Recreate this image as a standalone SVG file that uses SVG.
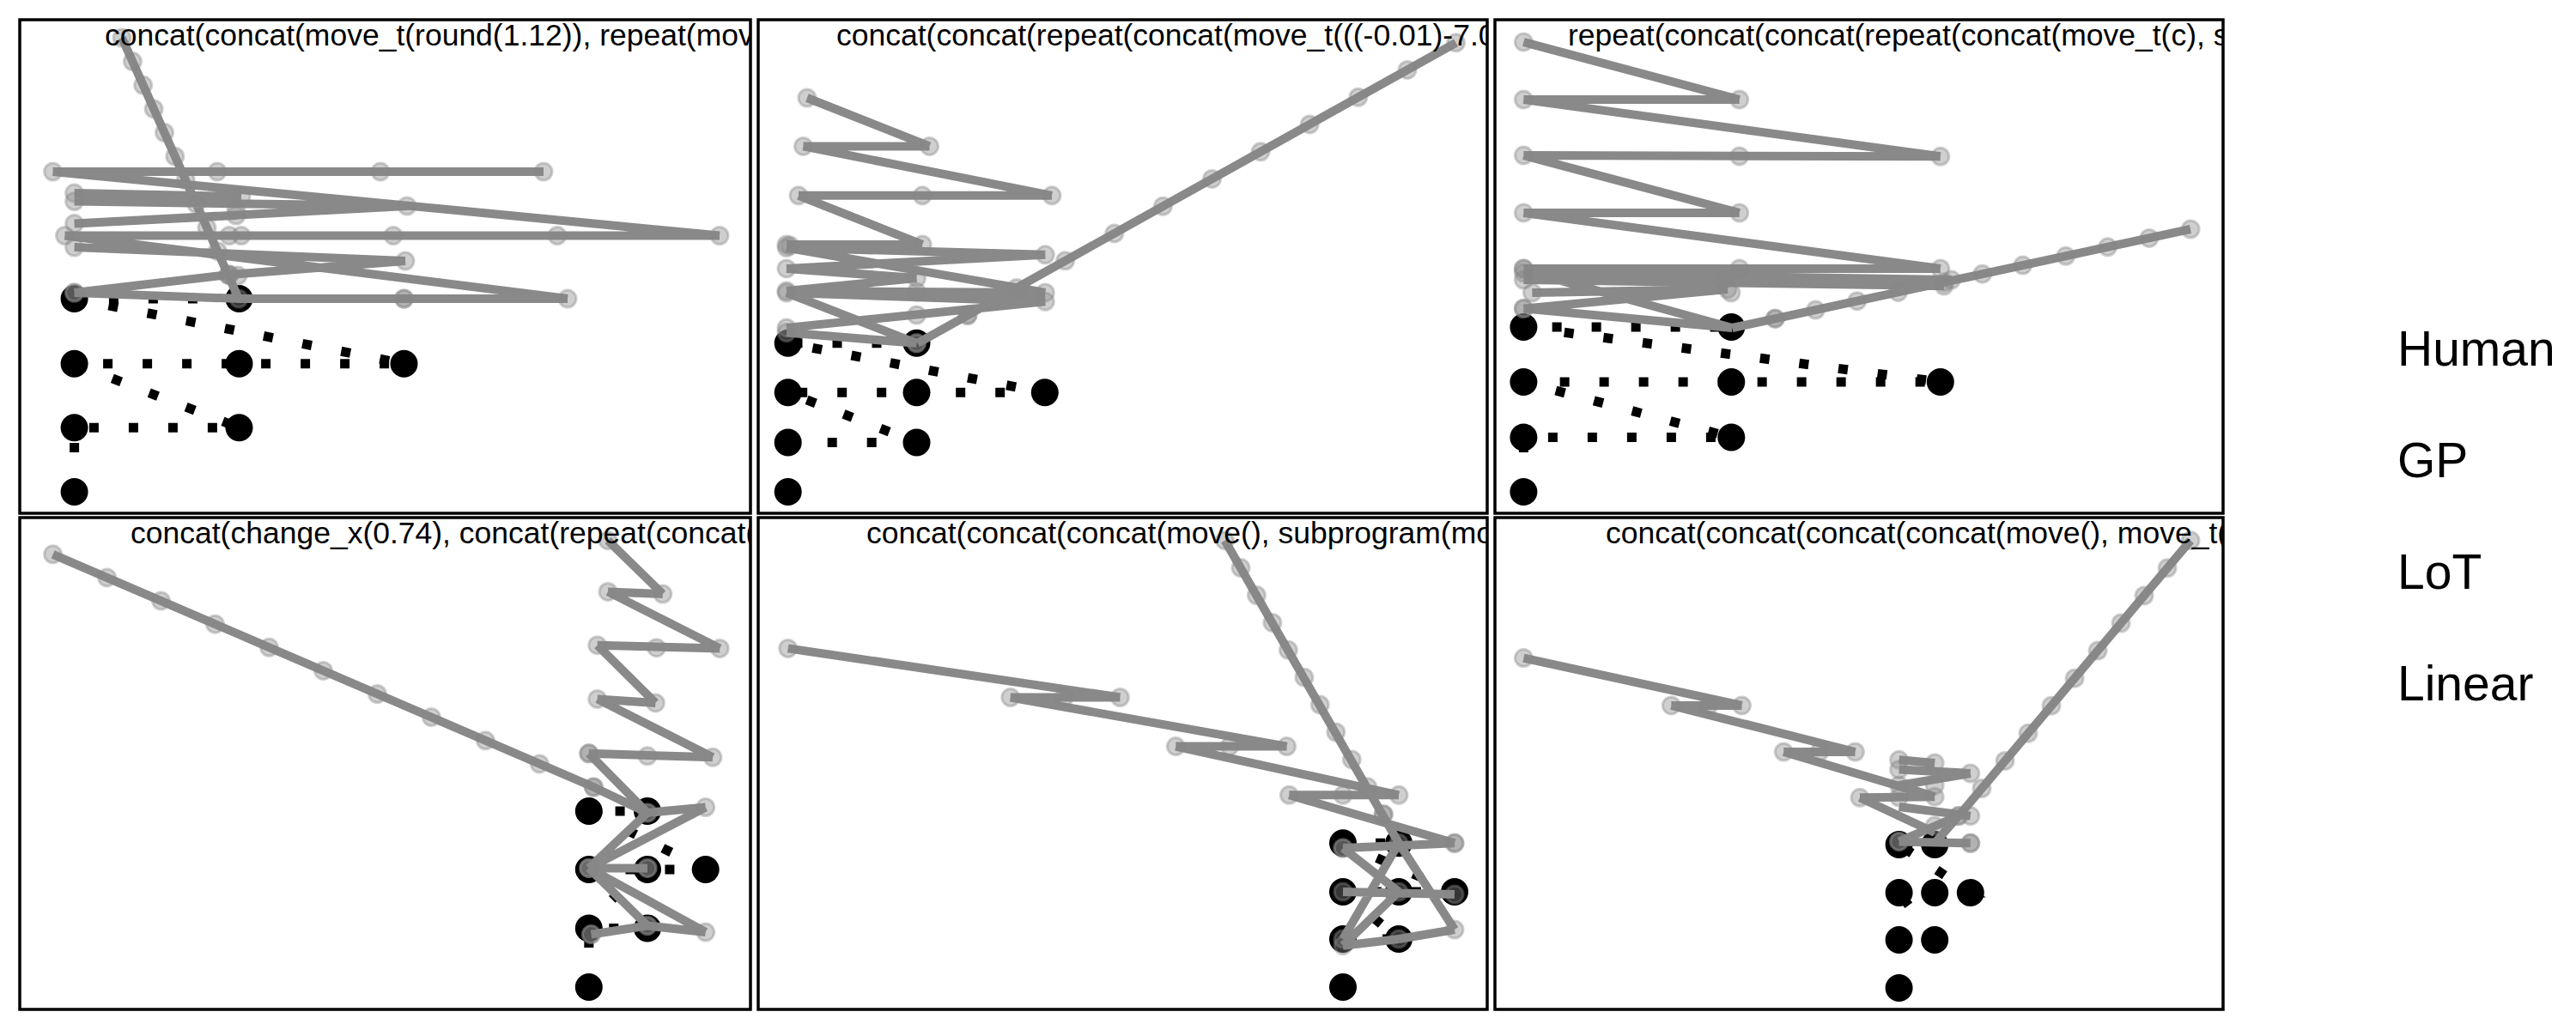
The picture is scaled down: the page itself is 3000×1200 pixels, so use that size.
<svg xmlns="http://www.w3.org/2000/svg" width="3000" height="1200" viewBox="0 0 3000 1200">
<style>
.frame{fill:none;stroke:#000;stroke-width:3.5}
.hd{fill:#000}
.hp{fill:none;stroke:#000;stroke-width:11;stroke-dasharray:11 35}
.gl{fill:none;stroke:#898989;stroke-width:10;stroke-linecap:butt;stroke-linejoin:round}
.gc{fill:#888;fill-opacity:0.4;stroke:#888;stroke-opacity:0.4;stroke-width:3}
.title{font-family:"Liberation Sans",Arial,sans-serif;font-size:35.5px;fill:#000}
.lab{font-family:"Liberation Sans",Arial,sans-serif;font-size:57px;fill:#000}
</style>
<defs>
<clipPath id="c1"><rect x="23" y="23" width="851" height="575"/></clipPath>
<clipPath id="c2"><rect x="883" y="23" width="849" height="575"/></clipPath>
<clipPath id="c3"><rect x="1741" y="23" width="848" height="575"/></clipPath>
<clipPath id="c4"><rect x="23" y="603" width="851" height="573"/></clipPath>
<clipPath id="c5"><rect x="883" y="603" width="849" height="573"/></clipPath>
<clipPath id="c6"><rect x="1741" y="603" width="848" height="573"/></clipPath>
</defs>
<rect width="3000" height="1200" fill="#fff"/>

<g id="panel-1" clip-path="url(#c1)">
<g class="hd"><circle cx="86.6" cy="348" r="16"/><circle cx="278.5" cy="348" r="16"/><circle cx="86.6" cy="423.7" r="16"/><circle cx="278.5" cy="423.7" r="16"/><circle cx="470.5" cy="423.7" r="16"/><circle cx="86.6" cy="498.3" r="16"/><circle cx="278.5" cy="498.3" r="16"/><circle cx="86.6" cy="573" r="16"/></g>
<polyline class="hp" points="86.6,573 86.6,498.3 278.5,498.3 86.6,423.7 470.5,423.7 86.6,348 278.5,348"/>
<path class="gl" d="M142,44L278,348 M61.6,200L633,200 M61.6,200L838,274.5 M75.5,274.5L838,274.5 M86.6,225L281,229 M86.6,234.5L281,232 M86.6,234.5L474,240 M474,240L86.6,260.6 M86.6,260.6L275,251 M86.6,288L472,304 M472,304L267,320 M267,320L86.6,341 M75.5,274.5L661,348 M86.6,341L278.5,348 L661,348"/>
<g class="gc"><circle cx="142" cy="44" r="10"/><circle cx="154.4" cy="71.6" r="10"/><circle cx="166.7" cy="99.3" r="10"/><circle cx="179.1" cy="126.9" r="10"/><circle cx="191.5" cy="154.5" r="10"/><circle cx="203.8" cy="182.2" r="10"/><circle cx="216.2" cy="209.8" r="10"/><circle cx="228.5" cy="237.5" r="10"/><circle cx="240.9" cy="265.1" r="10"/><circle cx="253.3" cy="292.7" r="10"/><circle cx="265.6" cy="320.4" r="10"/><circle cx="278" cy="348" r="10"/>
<circle cx="61.6" cy="200" r="10"/><circle cx="253" cy="200" r="10"/><circle cx="443" cy="200" r="10"/><circle cx="633" cy="200" r="10"/>
<circle cx="75.5" cy="274.5" r="10"/><circle cx="267" cy="274.5" r="10"/><circle cx="281" cy="274.5" r="10"/><circle cx="458" cy="274.5" r="10"/><circle cx="649" cy="274.5" r="10"/><circle cx="838" cy="274.5" r="10"/>
<circle cx="86.6" cy="225" r="10"/><circle cx="86.6" cy="234.5" r="10"/><circle cx="281" cy="229" r="10"/><circle cx="474" cy="240" r="10"/><circle cx="86.6" cy="260.6" r="10"/><circle cx="275" cy="244" r="10"/><circle cx="275" cy="251" r="10"/><circle cx="86.6" cy="288" r="10"/><circle cx="472" cy="304" r="10"/><circle cx="267" cy="320" r="10"/><circle cx="267" cy="320" r="10"/><circle cx="277" cy="321" r="10"/><circle cx="86.6" cy="341" r="10"/><circle cx="86.6" cy="341" r="10"/><circle cx="470.5" cy="348" r="10"/><circle cx="470.5" cy="348" r="10"/><circle cx="661" cy="348" r="10"/></g>
<text class="title" x="122" y="53">concat(concat(move_t(round(1.12)), repeat(mov</text>
</g>

<g id="panel-2" clip-path="url(#c2)">
<g class="hd"><circle cx="917.7" cy="399.8" r="16"/><circle cx="1067.5" cy="399.8" r="16"/><circle cx="917.7" cy="457.3" r="16"/><circle cx="1067.5" cy="457.3" r="16"/><circle cx="1216.8" cy="457.3" r="16"/><circle cx="917.7" cy="515.5" r="16"/><circle cx="1067.5" cy="515.5" r="16"/><circle cx="917.7" cy="573" r="16"/></g>
<polyline class="hp" points="917.7,515.5 1067.5,515.5 917.7,457.3 1216.8,457.3 917.7,399.8 1067.5,399.8"/>
<path class="gl" d="M939.9,114L1082.5,170.4 M935.5,170.4L1082.5,170.4 M935.5,170.4L1225,227.8 M930,227.8L1225,227.8 M930,227.8L1074.2,284.9 M916,284.9L1074.2,284.9 M916,288.6L1074.2,287 M916,288.6L1217.3,296.8 M1217.3,296.8L916,312.9 M916,312.9L1067.5,324 M1067.5,324L916,339 M916,339L1217.3,340.9 M916,341L1217.3,351.3 M916,341L1067.5,399.8 M916,381.9L1217.3,351.3 M916,387.5L1067.5,399.8 M916,288.6L1217.3,340.9 M1068.6,399.8L1695.6,49.8"/>
<g class="gc"><circle cx="939.9" cy="114" r="10"/><circle cx="1082.5" cy="170.4" r="10"/><circle cx="935.5" cy="170.4" r="10"/><circle cx="1225" cy="227.8" r="10"/><circle cx="930" cy="227.8" r="10"/><circle cx="1074.2" cy="227.8" r="10"/><circle cx="1074.2" cy="284.9" r="10"/><circle cx="916" cy="284.9" r="10"/><circle cx="920" cy="286" r="10"/><circle cx="916" cy="288.6" r="10"/><circle cx="1217.3" cy="296.8" r="10"/><circle cx="916" cy="312.9" r="10"/><circle cx="1067.5" cy="324" r="10"/><circle cx="916" cy="339" r="10"/><circle cx="916" cy="341" r="10"/><circle cx="1217.3" cy="340.9" r="10"/><circle cx="1217.3" cy="351.3" r="10"/><circle cx="1067.5" cy="340" r="10"/><circle cx="1067.5" cy="367" r="10"/><circle cx="916" cy="381.9" r="10"/><circle cx="916" cy="387.5" r="10"/><circle cx="1067.5" cy="399.8" r="10"/><circle cx="1067.5" cy="399.8" r="10"/>
<circle cx="1126.9" cy="367.3" r="10"/><circle cx="1126.9" cy="367.3" r="10"/><circle cx="1184" cy="335.4" r="10"/><circle cx="1240.6" cy="303.8" r="10"/><circle cx="1297.8" cy="271.9" r="10"/><circle cx="1354.4" cy="240.3" r="10"/><circle cx="1411.5" cy="208.4" r="10"/><circle cx="1468.1" cy="176.8" r="10"/><circle cx="1525.2" cy="144.9" r="10"/><circle cx="1581.8" cy="113.3" r="10"/><circle cx="1639" cy="81.4" r="10"/><circle cx="1695.6" cy="49.8" r="10"/></g>
<text class="title" x="974" y="53">concat(concat(repeat(concat(move_t(((-0.01)-7.0</text>
</g>

<g id="panel-3" clip-path="url(#c3)">
<g class="hd"><circle cx="1774.4" cy="381" r="16"/><circle cx="2016.3" cy="381" r="16"/><circle cx="1774.4" cy="445" r="16"/><circle cx="2016.3" cy="445" r="16"/><circle cx="2259.8" cy="445" r="16"/><circle cx="1774.4" cy="509.5" r="16"/><circle cx="2016.3" cy="509.5" r="16"/><circle cx="1774.4" cy="573" r="16"/></g>
<polyline class="hp" points="1774.4,573 1774.4,509.5 2016.3,509.5 1774.4,445 2259.8,445 1774.4,381 2016.3,381"/>
<path class="gl" d="M1774.4,49L2025.7,116 M1774.4,116L2025.7,116 M1774.4,116L2259.8,182.3 M1774.4,181L2259.8,182.3 M1774.4,181L2025.7,248 M1774.4,248L2025.7,248 M1774.4,248L2259.8,313 M1774.4,313L2259.8,313 M1774.4,318L2272.6,326 M1774.4,326L2264,333 M1784.4,341L2011.9,337 M1774.4,359.5L2011.9,337 M1774.4,359.5L2017.4,382 M1774.4,315L2017.4,382 M1774.4,322L2264,330 M2017.4,382L2551,267"/>
<g class="gc"><circle cx="1774.4" cy="49" r="10"/><circle cx="2025.7" cy="116" r="10"/><circle cx="1774.4" cy="116" r="10"/><circle cx="2259.8" cy="182.3" r="10"/><circle cx="1774.4" cy="181" r="10"/><circle cx="2025.7" cy="182" r="10"/><circle cx="1774.4" cy="248" r="10"/><circle cx="2025.7" cy="248" r="10"/><circle cx="2259.8" cy="313" r="10"/><circle cx="1774.4" cy="313" r="10"/><circle cx="1774.4" cy="313" r="10"/><circle cx="2025.7" cy="313" r="10"/><circle cx="1774.4" cy="318" r="10"/><circle cx="1774.4" cy="326" r="10"/><circle cx="1784.4" cy="341" r="10"/><circle cx="2007" cy="326" r="10"/><circle cx="2011.9" cy="337" r="10"/><circle cx="2016" cy="341" r="10"/><circle cx="2272.6" cy="326" r="10"/><circle cx="2264" cy="333" r="10"/><circle cx="1774.4" cy="359.5" r="10"/><circle cx="1774.4" cy="359.5" r="10"/>
<circle cx="2067.3" cy="371.2" r="10"/><circle cx="2067.3" cy="371.2" r="10"/><circle cx="2114.5" cy="361.1" r="10"/><circle cx="2162.8" cy="350.7" r="10"/><circle cx="2210.5" cy="340.4" r="10"/><circle cx="2264.3" cy="328.8" r="10"/><circle cx="2308.7" cy="319.2" r="10"/><circle cx="2355.8" cy="309.1" r="10"/><circle cx="2405.8" cy="298.3" r="10"/><circle cx="2454.6" cy="287.8" r="10"/><circle cx="2502.9" cy="277.4" r="10"/><circle cx="2551.1" cy="267" r="10"/></g>
<text class="title" x="1826" y="53">repeat(concat(concat(repeat(concat(move_t(c), s</text>
</g>

<g id="panel-4" clip-path="url(#c4)">
<g class="hd"><circle cx="685.8" cy="945" r="16"/><circle cx="754" cy="945" r="16"/><circle cx="685.8" cy="1013" r="16"/><circle cx="754" cy="1013" r="16"/><circle cx="821.7" cy="1013" r="16"/><circle cx="685.8" cy="1081.5" r="16"/><circle cx="754" cy="1081.5" r="16"/><circle cx="685.8" cy="1150" r="16"/></g>
<polyline class="hp" points="685.8,1150 685.8,1081.5 754,1081.5 685.8,1013 821.7,1013 685.8,945 754,945"/>
<path class="gl" d="M61.6,645.8L691.3,917L754,946.9 M708,629.7L771.8,692 M708,689.4L771.8,692 M708,689.4L838.3,755.4 M695.7,751.7L838.3,755.4 M695.7,751.7L763.4,818.9 M695.7,814.4L763.4,818.9 M695.7,814.4L830,882.3 M685.8,877.8L830,882.3 M685.8,877.8L754,946.9 M754,946.9L821.7,940.5 M821.7,940.5L685.8,1011.4 M754,946.9L685.8,1011.4 M685.8,1011.4L754,1011.4 M685.8,1011.4L754,1078.5 M685.8,1011.4L821.7,1086 M754,1078.5L821.7,1086 M754,1078.5L688.5,1088.6"/>
<g class="gc"><circle cx="61.6" cy="645.8" r="10"/><circle cx="124.6" cy="672.9" r="10"/><circle cx="187.5" cy="700" r="10"/><circle cx="250.5" cy="727.2" r="10"/><circle cx="313.5" cy="754.3" r="10"/><circle cx="376.5" cy="781.4" r="10"/><circle cx="439.4" cy="808.5" r="10"/><circle cx="502.4" cy="835.6" r="10"/><circle cx="565.4" cy="862.8" r="10"/><circle cx="628.3" cy="889.9" r="10"/><circle cx="691.3" cy="917" r="10"/><circle cx="691.3" cy="917" r="10"/>
<circle cx="708" cy="629.7" r="10"/><circle cx="771.8" cy="692" r="10"/><circle cx="708" cy="689.4" r="10"/><circle cx="838.3" cy="755.4" r="10"/><circle cx="695.7" cy="751.7" r="10"/><circle cx="764.5" cy="754.7" r="10"/><circle cx="763.4" cy="818.9" r="10"/><circle cx="695.7" cy="814.4" r="10"/><circle cx="830" cy="882.3" r="10"/><circle cx="685.8" cy="877.8" r="10"/><circle cx="685.8" cy="877.8" r="10"/><circle cx="754" cy="880.8" r="10"/><circle cx="754" cy="946.9" r="10"/><circle cx="754" cy="946.9" r="10"/><circle cx="821.7" cy="940.5" r="10"/><circle cx="685.8" cy="1011.4" r="10"/><circle cx="685.8" cy="1011.4" r="10"/><circle cx="685.8" cy="1011.4" r="10"/><circle cx="754" cy="1011.4" r="10"/><circle cx="754" cy="1011.4" r="10"/><circle cx="821.7" cy="1086" r="10"/><circle cx="754" cy="1078.5" r="10"/><circle cx="754" cy="1078.5" r="10"/><circle cx="688.5" cy="1088.6" r="10"/><circle cx="688.5" cy="1088.6" r="10"/></g>
<text class="title" x="152" y="633">concat(change_x(0.74), concat(repeat(concat(</text>
</g>

<g id="panel-5" clip-path="url(#c5)">
<g class="hd"><circle cx="1564" cy="982.3" r="16"/><circle cx="1629" cy="982.3" r="16"/><circle cx="1564" cy="1039" r="16"/><circle cx="1629" cy="1039" r="16"/><circle cx="1694" cy="1039" r="16"/><circle cx="1564" cy="1094" r="16"/><circle cx="1629" cy="1094" r="16"/><circle cx="1564" cy="1150" r="16"/></g>
<polyline class="hp" points="1564,1094 1629,1094 1564,1039 1694,1039 1564,982.3 1629,982.3"/>
<path class="gl" d="M1426.5,629.7L1629,982.3 M917.7,755.4L1304.4,812.5 M1176.8,812.5L1304.4,812.5 M1176.8,812.5L1498.6,869.6 M1369.3,869.6L1498.6,869.6 M1369.3,869.6L1629,926.3 M1501.4,926.3L1629,926.3 M1501.4,926.3L1694,982.3 M1564,988L1694,982.3 M1564,988L1629,1039 M1564,1039L1694,1042 M1629,982.3L1564,1094 M1629,982.3L1694,1083 M1694,1083L1629,1094 M1564,1101.7L1629,1094 M1629,1039L1564,1101.7"/>
<g class="gc"><circle cx="1426.5" cy="629.7" r="10"/><circle cx="1445" cy="661.6" r="10"/><circle cx="1463.4" cy="693.5" r="10"/><circle cx="1481.9" cy="725.4" r="10"/><circle cx="1500.4" cy="757.3" r="10"/><circle cx="1518.9" cy="789.2" r="10"/><circle cx="1537.3" cy="821.1" r="10"/><circle cx="1555.8" cy="853" r="10"/><circle cx="1574.3" cy="884.9" r="10"/><circle cx="1592.7" cy="916.8" r="10"/><circle cx="1611.2" cy="948.7" r="10"/><circle cx="1611.2" cy="948.7" r="10"/>
<circle cx="917.7" cy="755.4" r="10"/><circle cx="1176.8" cy="812.5" r="10"/><circle cx="1239.5" cy="812.5" r="10"/><circle cx="1304.4" cy="812.5" r="10"/><circle cx="1369.3" cy="869.6" r="10"/><circle cx="1432" cy="869.6" r="10"/><circle cx="1498.6" cy="869.6" r="10"/><circle cx="1501.4" cy="926.3" r="10"/><circle cx="1564" cy="926.3" r="10"/><circle cx="1629" cy="926.3" r="10"/><circle cx="1694" cy="982.3" r="10"/><circle cx="1694" cy="982.3" r="10"/><circle cx="1564" cy="988" r="10"/><circle cx="1564" cy="988" r="10"/><circle cx="1629" cy="982.3" r="10"/><circle cx="1564" cy="1039" r="10"/><circle cx="1629" cy="1039" r="10"/><circle cx="1694" cy="1042" r="10"/><circle cx="1694" cy="1083" r="10"/><circle cx="1564" cy="1094" r="10"/><circle cx="1629" cy="1094" r="10"/><circle cx="1564" cy="1101.7" r="10"/></g>
<text class="title" x="1009" y="633">concat(concat(concat(move(), subprogram(mo</text>
</g>

<g id="panel-6" clip-path="url(#c6)">
<g class="hd"><circle cx="2211.6" cy="984" r="16"/><circle cx="2253.2" cy="984" r="16"/><circle cx="2211.6" cy="1040" r="16"/><circle cx="2253.2" cy="1040" r="16"/><circle cx="2294.8" cy="1040" r="16"/><circle cx="2211.6" cy="1095" r="16"/><circle cx="2253.2" cy="1095" r="16"/><circle cx="2211.6" cy="1151" r="16"/></g>
<polyline class="hp" points="2211.6,1095 2253.2,1095 2211.6,1040 2294.8,1040 2211.6,984 2253.2,984"/>
<path class="gl" d="M2551.1,629.7L2281,950.6L2253.2,982.3 M1774.4,766.6L2028.5,821.9 M1946.4,821.9L2028.5,821.9 M1946.4,821.9L2160.5,876 M2077.3,876L2160.5,876 M2077.3,876L2253.2,928.2 M2211.6,885.3L2253.2,889 M2211.6,896.5L2294.8,901 M2294.8,901L2211.6,915 M2211.6,915L2253.2,928.2 M2166,929.3L2253.2,928.2 M2166,929.3L2253.2,970 M2211.6,940L2294.8,950.6 M2211.6,980.4L2294.8,982.3 M2211.6,980.4L2281,950.6"/>
<g class="gc"><circle cx="2551.1" cy="629.7" r="10"/><circle cx="2524.1" cy="661.8" r="10"/><circle cx="2497.1" cy="693.9" r="10"/><circle cx="2470.1" cy="726" r="10"/><circle cx="2443.1" cy="758.1" r="10"/><circle cx="2416.1" cy="790.2" r="10"/><circle cx="2389" cy="822.2" r="10"/><circle cx="2362" cy="854.3" r="10"/><circle cx="2335" cy="886.4" r="10"/><circle cx="2308" cy="918.5" r="10"/><circle cx="2281" cy="950.6" r="10"/><circle cx="2281" cy="950.6" r="10"/>
<circle cx="1774.4" cy="766.6" r="10"/><circle cx="1946.4" cy="821.9" r="10"/><circle cx="1989.7" cy="821.9" r="10"/><circle cx="2028.5" cy="821.9" r="10"/><circle cx="2077.3" cy="876" r="10"/><circle cx="2119" cy="876" r="10"/><circle cx="2160.5" cy="876" r="10"/><circle cx="2211.6" cy="885.3" r="10"/><circle cx="2253.2" cy="889" r="10"/><circle cx="2211.6" cy="896.5" r="10"/><circle cx="2294.8" cy="901" r="10"/><circle cx="2211.6" cy="915" r="10"/><circle cx="2253.2" cy="915" r="10"/><circle cx="2166" cy="929.3" r="10"/><circle cx="2211.6" cy="929" r="10"/><circle cx="2253.2" cy="928.2" r="10"/><circle cx="2294.8" cy="950.6" r="10"/><circle cx="2253.2" cy="962" r="10"/><circle cx="2211.6" cy="980.4" r="10"/><circle cx="2211.6" cy="980.4" r="10"/><circle cx="2294.8" cy="982.3" r="10"/><circle cx="2294.8" cy="982.3" r="10"/></g>
<text class="title" x="1870" y="633">concat(concat(concat(concat(move(), move_t(</text>
</g>

<g id="frames">
<rect class="frame" x="23" y="23" width="851" height="575"/>
<rect class="frame" x="883" y="23" width="849" height="575"/>
<rect class="frame" x="1741" y="23" width="848" height="575"/>
<rect class="frame" x="23" y="603" width="851" height="573"/>
<rect class="frame" x="883" y="603" width="849" height="573"/>
<rect class="frame" x="1741" y="603" width="848" height="573"/>
</g>

<g id="legend">
<text class="lab" x="2792" y="426">Human</text>
<text class="lab" x="2792" y="556">GP</text>
<text class="lab" x="2792" y="686">LoT</text>
<text class="lab" x="2792" y="816">Linear</text>
</g>
</svg>
